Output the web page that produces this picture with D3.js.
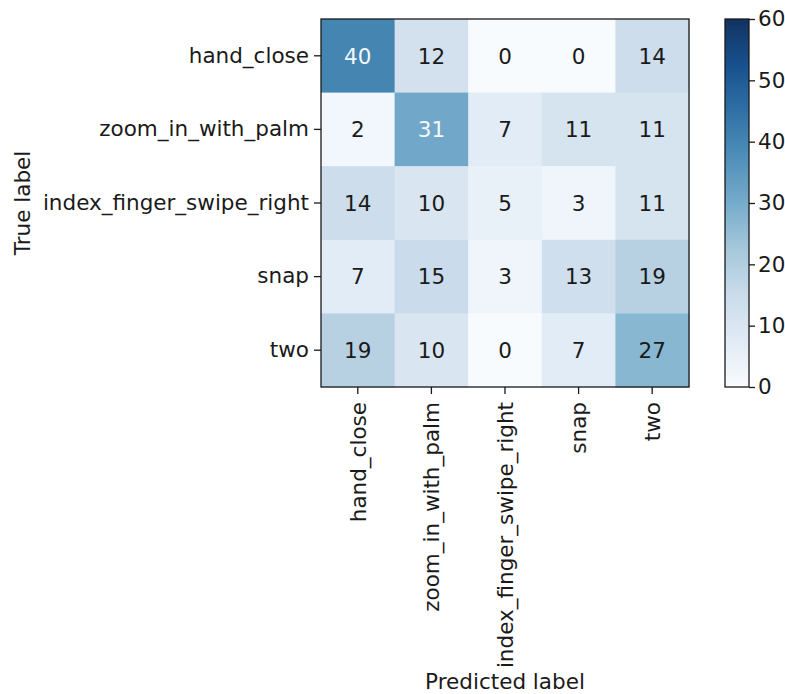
<!DOCTYPE html>
<html>
<head>
<meta charset="utf-8">
<script src="https://cdn.jsdelivr.net/npm/d3@7"></script>
<style>
  body { margin: 0; background: #fff; }
  text { font-family: "DejaVu Sans", sans-serif; fill: #1a1a1a; }
</style>
</head>
<body>
<div class="chart"></div>
<script>
// confusion matrix values (rows = true label, cols = predicted label)
const classes = ['hand_close', 'zoom_in_with_palm', 'index_finger_swipe_right', 'snap', 'two']
const matrix = [
    [40, 12, 0, 0, 14],
    [2, 31, 7, 11, 11],
    [14, 10, 5, 3, 11],
    [7, 15, 3, 13, 19],
    [19, 10, 0, 7, 27]
]
const colorTicks = [0, 10, 20, 30, 40, 50, 60]
const colorDomain = [0, 60]

const W = 785, H = 694
const plotLeft = 321, plotTop = 19, size = 368
const fontSize = 21.5

// matplotlib "Blues" is a plain linear ramp through the brewer colours
const blues = ['#f7fbff', '#deebf7', '#c6dbef', '#9ecae1', '#6baed6', '#4292c6', '#2171b5', '#08519c', '#08306b']
const ramp = d3.scaleLinear()
    .domain(d3.range(blues.length).map(i => i / (blues.length - 1)))
    .range(blues)
    .interpolate(d3.interpolateRgb)
const interp = t => {
    const c = d3.hsl(ramp(t))
    c.s *= 0.8
    return c.formatHex()
}

const svg = d3.select('.chart')
    .append('svg')
    .attr('width', W)
    .attr('height', H)

const xScale = d3.scaleBand().domain(classes).range([plotLeft, plotLeft + size])
const yScale = d3.scaleBand().domain(classes).range([plotTop, plotTop + size])
const color = d3.scaleSequential(interp).domain(colorDomain)

const cells = matrix.flatMap((row, i) => row.map((v, j) => ({ t: classes[i], p: classes[j], v })))

svg.selectAll('rect.cell')
    .data(cells)
    .enter()
    .append('rect')
        .attr('class', 'cell')
        .attr('x', d => xScale(d.p))
        .attr('y', d => yScale(d.t))
        .attr('width', xScale.bandwidth() + 0.5)
        .attr('height', yScale.bandwidth() + 0.5)
        .style('fill', d => color(d.v))

svg.selectAll('text.val')
    .data(cells)
    .enter()
    .append('text')
        .attr('class', 'val')
        .attr('x', d => xScale(d.p) + xScale.bandwidth() / 2)
        .attr('y', d => yScale(d.t) + yScale.bandwidth() / 2)
        .attr('dy', '0.36em')
        .attr('text-anchor', 'middle')
        .style('font-size', fontSize + 'px')
        .style('fill', d => d.v > colorDomain[1] / 2 ? '#f4f8fc' : '#1a1a1a')
        .text(d => d.v)

// frame
svg.append('rect')
    .attr('x', plotLeft).attr('y', plotTop)
    .attr('width', size).attr('height', size)
    .style('fill', 'none')
    .style('stroke', '#1a1a1a')
    .style('stroke-width', 1.3)

//axes
const yAxis = svg.append('g')
    .attr('transform', `translate(${plotLeft}, 0)`)
    .call(d3.axisLeft(yScale).tickSize(7).tickPadding(5))
const xAxis = svg.append('g')
    .attr('transform', `translate(0, ${plotTop + size})`)
    .call(d3.axisBottom(xScale).tickSize(7).tickPadding(5))

;[xAxis, yAxis].forEach(g => {
    g.select('.domain').remove()
    g.selectAll('line').style('stroke', '#1a1a1a').style('stroke-width', 1.3)
    g.selectAll('text').style('font-size', fontSize + 'px').style('fill', '#1a1a1a')
        .attr('font-family', null)
})
xAxis.selectAll('text')
    .attr('transform', 'rotate(-90)')
    .attr('text-anchor', 'end')
    .attr('x', -15)
    .attr('y', 0)
    .attr('dy', '0.36em')

svg.append('text')
    .attr('x', plotLeft + size / 2)
    .attr('y', 689)
    .attr('text-anchor', 'middle')
    .style('font-size', fontSize + 'px')
    .text('Predicted label')

svg.append('text')
    .attr('transform', `translate(30, ${plotTop + size / 2}) rotate(-90)`)
    .attr('text-anchor', 'middle')
    .style('font-size', fontSize + 'px')
    .text('True label')

// colorbar
const cbX = 725, cbW = 24
const cbScale = d3.scaleLinear().domain(colorDomain).range([plotTop + size, plotTop])
const defs = svg.append('defs')
const grad = defs.append('linearGradient')
    .attr('id', 'cbgrad')
    .attr('x1', 0).attr('y1', 1).attr('x2', 0).attr('y2', 0)
grad.selectAll('stop')
    .data(d3.range(0, 1.0001, 0.0625))
    .enter()
    .append('stop')
        .attr('offset', d => d)
        .attr('stop-color', d => color(colorDomain[0] + d * (colorDomain[1] - colorDomain[0])))

svg.append('rect')
    .attr('x', cbX).attr('y', plotTop)
    .attr('width', cbW).attr('height', size)
    .style('fill', 'url(#cbgrad)')
    .style('stroke', '#1a1a1a')
    .style('stroke-width', 1.3)

const cbAxis = svg.append('g')
    .attr('transform', `translate(${cbX + cbW}, 0)`)
    .call(d3.axisRight(cbScale).tickValues(colorTicks).tickSize(6).tickPadding(3))
cbAxis.select('.domain').remove()
cbAxis.selectAll('line').style('stroke', '#1a1a1a').style('stroke-width', 1.3)
cbAxis.selectAll('text').style('font-size', fontSize + 'px').style('fill', '#1a1a1a')
    .attr('font-family', null)
</script>
</body>
</html>
